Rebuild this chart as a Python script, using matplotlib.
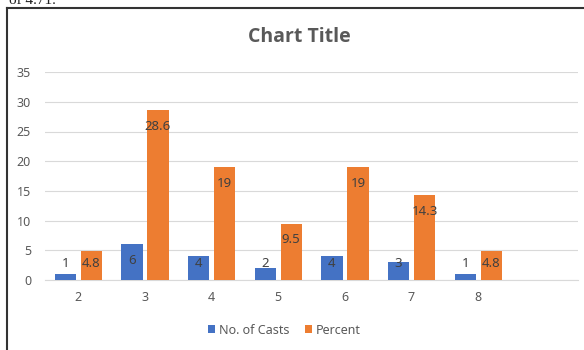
import matplotlib.pyplot as plt
import numpy as np

plt.rcParams['font.family'] = ['Noto Sans', 'DejaVu Sans']

categories = ['2', '3', '4', '5', '6', '7', '8', '']
casts = [1, 6, 4, 2, 4, 3, 1]
percent = [4.8, 28.6, 19, 9.5, 19, 14.3, 4.8]
casts_labels = ['1', '6', '4', '2', '4', '3', '1']
percent_labels = ['4.8', '28.6', '19', '9.5', '19', '14.3', '4.8']

blue = '#4472C4'
orange = '#ED7D31'
grey = '#595959'

fig = plt.figure(figsize=(5.84, 3.5), dpi=100)
ax = fig.add_axes([0.077, 0.2, 0.913, 0.594])

x = np.arange(len(casts))
w = 0.32
off = 0.195
ax.bar(x - off, casts, w, color=blue, label='No. of Casts', zorder=3)
ax.bar(x + off, percent, w, color=orange, label='Percent', zorder=3)

# data labels, inside end but kept clear of the baseline
for xi, v, s in zip(x, casts, casts_labels):
    ax.text(xi - off, max(v - 2.7, 2.8), s, ha='center', va='center',
            fontsize=9.5, color='#404040', zorder=4)
for xi, v, s in zip(x, percent, percent_labels):
    ax.text(xi + off, max(v - 2.7, 2.8), s, ha='center', va='center',
            fontsize=9.5, color='#404040', zorder=4)

ax.set_xlim(-0.5, len(categories) - 0.5)
ax.set_ylim(0, 35)
ax.set_yticks(range(0, 36, 5))
ax.set_xticks(range(len(categories)))
ax.set_xticklabels(categories)
ax.tick_params(axis='both', length=0, labelsize=9, labelcolor=grey)
ax.tick_params(axis='x', pad=8)
ax.tick_params(axis='y', pad=10)
ax.grid(axis='y', color='#d9d9d9', linewidth=0.8, zorder=0)
for side in ['top', 'right', 'left']:
    ax.spines[side].set_visible(False)
ax.spines['bottom'].set_color('#d9d9d9')

fig.text(0.513, 0.893, 'Chart Title', ha='center', va='center',
         fontsize=14, color=grey, fontweight='bold', family=['Open Sans', 'DejaVu Sans'])

ax.legend(loc='center', bbox_to_anchor=(0.5 - 0.013, 0.057), bbox_transform=fig.transFigure,
          ncol=2, frameon=False, fontsize=9, handlelength=0.6, handleheight=0.6,
          handletextpad=0.3, columnspacing=1.2, labelcolor=grey)

# frame around the chart, as in the screenshot
fig.add_artist(plt.Line2D([0.012, 0.012], [0, 0.977], color='#333333', linewidth=1.5))
fig.add_artist(plt.Line2D([0.012, 1.0], [0.977, 0.977], color='#333333', linewidth=1.5))
fig.text(0.015, 1.0, 'of 4.71.', ha='left', va='center', fontsize=11, color='#222222',
         family='Liberation Serif')

fig.savefig('out.png', dpi=100)
